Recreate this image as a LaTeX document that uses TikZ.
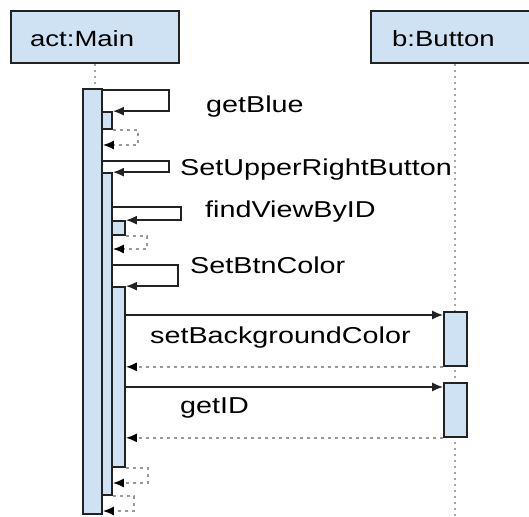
\documentclass[tikz,border=0pt]{standalone}
\usepackage{fontspec}
\setmainfont[FakeStretch=1.25]{Liberation Sans}
\usepackage{xcolor}
\usepackage{tikz}
\usetikzlibrary{arrows.meta}
\definecolor{barblue}{HTML}{CFE2F3}
\definecolor{edge}{HTML}{222222}

\begin{document}
\begin{tikzpicture}[x=1pt, y=-1pt,
    head/.style={draw=edge, line width=1.8pt, fill=barblue, inner sep=0pt},
    bar/.style={draw=edge, line width=1.7pt, fill=barblue, inner sep=0pt, minimum width=#1},
    bar/.default=10pt,
    msg/.style={draw=edge, line width=1.7pt, -{Latex[length=11pt, width=9pt]}},
    ret/.style={draw=gray!80, line width=1.6pt, dash pattern=on 3pt off 4pt, -{Latex[length=11pt, width=9pt, black]}},
    lifeline/.style={draw=gray!70, line width=1.7pt, dash pattern=on 2pt off 4pt},
    lbl/.style={anchor=base west, inner sep=0pt, font=\fontsize{23}{27}\selectfont}]
    \clip (0,0) rectangle (529,516);

    % Lifeline heads
    \node[head, minimum width=168pt, minimum height=52pt] (main) at (95,37) {};
    \node[head, minimum width=164pt, minimum height=52pt] (btn) at (453,37) {};
    \node[anchor=base west, inner sep=0pt, font=\fontsize{22}{26}\selectfont] (mainTxt) at (30,47) {act:Main};
    \node[anchor=base west, inner sep=0pt, font=\fontsize{22}{26}\selectfont] (btnTxt) at (392,47) {b:Button};

    % Lifelines
    \coordinate (btnEnd) at (455,516);
    \draw[lifeline] (main.south) -- (main.south |- 0,89);
    \draw[lifeline] (btnEnd |- btn.south) -- (btnEnd);

    % Activation bars
    \node[bar=19pt, minimum height=425pt] (a0) at (92.5,301.5) {};
    \node[bar, minimum height=17pt] (aBlue) at (107,120.5) {};
    \node[bar, minimum height=322pt] (aUpper) at (107,334) {};
    \node[bar=13pt, minimum height=14pt] (aFind) at (118.5,228) {};
    \node[bar=13pt, minimum height=180pt] (aColor) at (118.5,377) {};
    \node[bar=23pt, minimum height=54pt] (aSetBg) at (455.5,339) {};
    \node[bar=23pt, minimum height=54pt] (aGetID) at (455.5,410) {};

    % Self calls
    \draw[msg] (a0.east |- 0,90) -- ++(66,0) |- (aBlue.north east);
    \draw[ret] (aBlue.south east) -- ++(25,0) |- (a0.east |- 0,145);
    \draw[msg] (a0.east |- 0,161) -- ++(66,0) |- (aUpper.north east);
    \draw[msg] (aUpper.east |- 0,207) -- ++(68,0) |- (aFind.north east);
    \draw[ret] (aFind.south east) -- ++(21,0) |- (aUpper.east |- 0,249);
    \draw[msg] (aUpper.east |- 0,265) -- ++(65,0) |- (aColor.north east);

    % Calls to the button
    \draw[msg] (aColor.east |- 0,315) -- (aSetBg.west |- 0,315);
    \draw[ret] (aSetBg.south west) -- (aColor.east |- aSetBg.south);
    \draw[msg] (aColor.east |- 0,387) -- (aGetID.west |- 0,387);
    \draw[ret] (aGetID.south west) -- (aColor.east |- aGetID.south);

    % Returns at the end
    \draw[ret] (aColor.south east) -- ++(22,0) |- (aUpper.east |- 0,483);
    \draw[ret] (aUpper.south east) -- ++(21,0) |- (a0.east |- 0,511);

    % Message names
    \node[lbl] (tBlue) at (206,113) {getBlue};
    \node[lbl] (tUpper) at (180,175) {SetUpperRightButton};
    \node[lbl] (tFind) at (205,217) {findViewByID};
    \node[lbl] (tColor) at (190,273) {SetBtnColor};
    \node[lbl] (tSetBg) at (150,343) {setBackgroundColor};
    \node[lbl] (tGetID) at (180,413) {getID};
\end{tikzpicture}
\end{document}
